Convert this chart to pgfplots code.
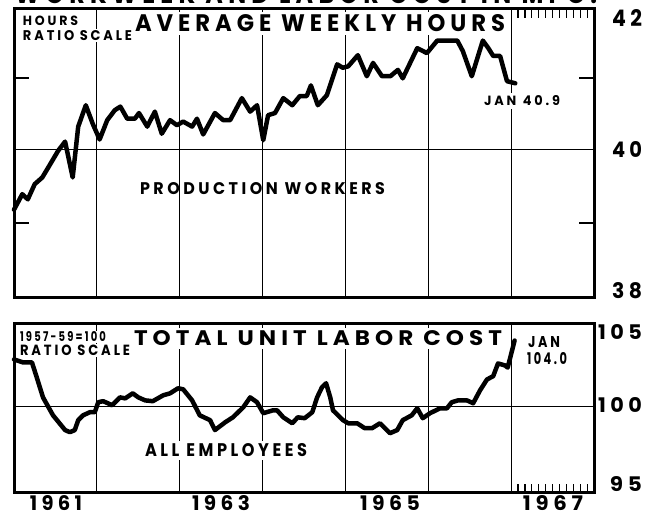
\documentclass[border=0pt]{standalone}
\usepackage{fontspec}
\setmainfont{Poppins}[LetterSpace=22]
\usepackage{graphicx}
\usepackage{pgfplots}
\pgfplotsset{compat=1.18}
\newcommand\lbl[3]{\resizebox{#1pt}{#2pt}{\bfseries #3}}

\begin{document}
\begin{tikzpicture}
\useasboundingbox (0pt,0pt) rectangle (657pt,517pt);

% ---------- top panel: average weekly hours ----------
\begin{axis}[at={(14pt,219pt)}, anchor=south west,
  scale only axis, width=580pt, height=289pt,
  xmin=0, xmax=84, ymode=log, ymin=38, ymax=42,
  axis line style={draw=none},
  xtick={12,24,...,72}, xticklabels={},
  ytick={40}, yticklabels={},
  xmajorgrids, ymajorgrids,
  major tick length=0pt,
  minor xtick={73,74,...,83}, minor tick length=9pt,
  minor x tick style={black, line width=1.1pt},
  tick align=inside, xtick pos=right,
  major grid style={black, line width=1pt},
  clip=false]
\addplot[black, line width=4.5pt, line join=round, line cap=round, mark=none] coordinates {
(0,39.18) (1.2,39.39) (2.0,39.32) (3.0,39.53) (4.1,39.62) (5.2,39.80) (6.4,39.99) (7.4,40.11)
(8.5,39.62) (9.3,40.32) (10.4,40.62) (11.4,40.36) (12.4,40.14) (13.5,40.41) (14.6,40.55) (15.4,40.60)
(16.4,40.43) (17.5,40.43) (18.1,40.51) (19.3,40.32) (20.4,40.53) (21.4,40.22) (22.6,40.41) (23.6,40.34)
(24.5,40.39) (25.8,40.32) (26.5,40.43) (27.4,40.21) (29.1,40.51) (30.3,40.41) (31.3,40.41) (33.0,40.72)
(34.2,40.53) (35.2,40.62) (36.1,40.13) (36.8,40.48) (37.8,40.51) (39.0,40.72) (40.3,40.62) (41.4,40.75)
(42.4,40.75) (43.0,40.90) (44.0,40.62) (45.3,40.76) (46.8,41.20) (47.6,41.15) (48.4,41.17) (49.8,41.33)
(51.1,41.03) (52.0,41.22) (53.3,41.03) (54.5,41.03) (55.6,41.12) (56.3,41.00) (58.4,41.43) (59.8,41.36)
(61.3,41.54) (64.2,41.54) (65.0,41.39) (66.3,41.03) (67.9,41.54) (68.7,41.43) (69.4,41.32) (70.4,41.32)
(71.4,40.96) (72.6,40.93)};
\draw[line width=1.8pt] (axis cs:0,39) -- ++(15pt,0pt);
\draw[line width=1.8pt] (axis cs:0,41) -- ++(15pt,0pt);
\draw[line width=1.8pt] (axis cs:84,39) -- ++(-15pt,0pt);
\draw[line width=1.8pt] (axis cs:84,41) -- ++(-15pt,0pt);
\end{axis}

% ---------- bottom panel: total unit labor cost ----------
\begin{axis}[at={(14pt,24pt)}, anchor=south west,
  scale only axis, width=580pt, height=169pt,
  xmin=0, xmax=84, ymode=log, ymin=95, ymax=105,
  axis line style={draw=none},
  xtick={12,24,...,72}, xticklabels={},
  ytick={100}, yticklabels={},
  xmajorgrids, ymajorgrids,
  major tick length=0pt,
  minor xtick={73,74,...,83}, minor tick length=9pt,
  minor x tick style={black, line width=1.1pt},
  tick align=inside, xtick pos=left,
  major grid style={black, line width=1pt},
  clip=false]
\addplot[black, line width=4.5pt, line join=round, line cap=round, mark=none] coordinates {
(0,102.81) (1.3,102.63) (2.6,102.63) (3.3,101.72) (4.2,100.53) (5.65,99.47) (7.4,98.60) (8.1,98.48)
(8.8,98.60) (9.3,99.18) (10.0,99.47) (11.0,99.65) (11.7,99.65) (12.2,100.24) (12.9,100.30) (13.6,100.18)
(14.2,100.06) (15.35,100.53) (16.1,100.47) (17.2,100.77) (18.0,100.53) (19.0,100.35) (20.1,100.30)
(21.6,100.65) (22.6,100.77) (23.75,101.07) (24.5,101.01) (25.8,100.35) (26.9,99.47) (28.4,99.18)
(29.1,98.60) (30.6,99.06) (31.7,99.35) (33.2,99.94) (34.2,100.53) (35.2,100.24) (36.1,99.59)
(37.5,99.76) (38.1,99.76) (39.0,99.35) (40.3,99.00) (41.1,99.35) (42.1,99.30) (43.2,99.65)
(43.9,100.53) (44.6,101.13) (45.2,101.37) (45.8,100.53) (46.2,99.76) (47.65,99.18) (48.4,99.00)
(49.7,99.00) (50.8,98.71) (51.85,98.71) (53.0,99.00) (54.45,98.42) (55.5,98.60) (56.3,99.18)
(57.6,99.47) (58.4,99.88) (59.2,99.30) (60.25,99.59) (61.7,99.88) (62.7,99.88) (63.4,100.24)
(64.3,100.35) (65.6,100.35) (66.5,100.18) (67.5,100.95) (68.5,101.60) (69.4,101.80) (70.1,102.57)
(71.1,102.45) (71.5,102.32) (72.5,103.97)};
\end{axis}

\tikzset{lab/.style={inner sep=0pt, outer sep=0pt}, wl/.style={fill=white, inner xsep=2pt, inner ysep=1pt}}
% cut-off heading at top
\node[lab, anchor=base west] at (15pt,513pt) {\lbl{582}{19}{WORKWEEK AND LABOR COST IN MFG.}};
% top panel labels
\node[lab, wl, anchor=base west] at (21pt,491pt) {\lbl{55}{9.5}{HOURS}};
\node[lab, wl, anchor=base west] at (21pt,476.5pt) {\lbl{109}{10}{RATIO SCALE}};
\node[lab, wl, anchor=base west, inner ysep=3pt] at (133pt,485pt) {\lbl{370}{17}{AVERAGE WEEKLY HOURS}};
\node[lab, wl, anchor=base west, inner ysep=3pt] at (482pt,411pt) {\lbl{76}{10}{JAN\enspace 40.9}};
\node[lab, anchor=base west] at (140pt,322pt) {\lbl{245}{12}{PRODUCTION WORKERS}};
\node[lab, anchor=base east] at (642pt,490pt) {\lbl{30}{17}{42}};
\node[lab, anchor=base east] at (642pt,359pt) {\lbl{30}{16}{40}};
\node[lab, anchor=base east] at (642pt,218pt) {\lbl{30}{16}{38}};
% bottom panel labels
\node[lab, wl, anchor=base west] at (18pt,175pt) {\lbl{86}{10}{1957-59=100}};
\node[lab, wl, anchor=base west] at (18pt,161pt) {\lbl{110}{10.5}{RATIO SCALE}};
\node[lab, wl, anchor=base west, inner ysep=3pt] at (132pt,171pt) {\lbl{368}{15}{TOTAL UNIT LABOR COST}};
\node[lab, anchor=base west] at (528pt,169pt) {\lbl{32}{11}{JAN}};
\node[lab, anchor=base west] at (527pt,152pt) {\lbl{40}{12}{104.0}};
\node[lab, wl, anchor=base west, inner ysep=3pt] at (143pt,60pt) {\lbl{162}{13}{ALL EMPLOYEES}};
\node[lab, anchor=base] at (56pt,6pt) {\lbl{52}{15}{1961}};
\node[lab, anchor=base] at (221pt,6pt) {\lbl{58}{15}{1963}};
\node[lab, anchor=base] at (390pt,6pt) {\lbl{60}{15}{1965}};
\node[lab, anchor=base] at (553pt,6pt) {\lbl{60}{15}{1967}};
\node[lab, anchor=base east] at (642pt,177pt) {\lbl{44}{15}{105}};
\node[lab, anchor=base east] at (642pt,104pt) {\lbl{44}{15}{100}};
\node[lab, anchor=base east] at (642pt,25pt) {\lbl{32}{15}{95}};
% frames
\draw[line width=3pt] (14pt,219pt) rectangle (594pt,508pt);
\draw[line width=3pt] (14pt,24pt) rectangle (594pt,193pt);
\end{tikzpicture}
\end{document}
